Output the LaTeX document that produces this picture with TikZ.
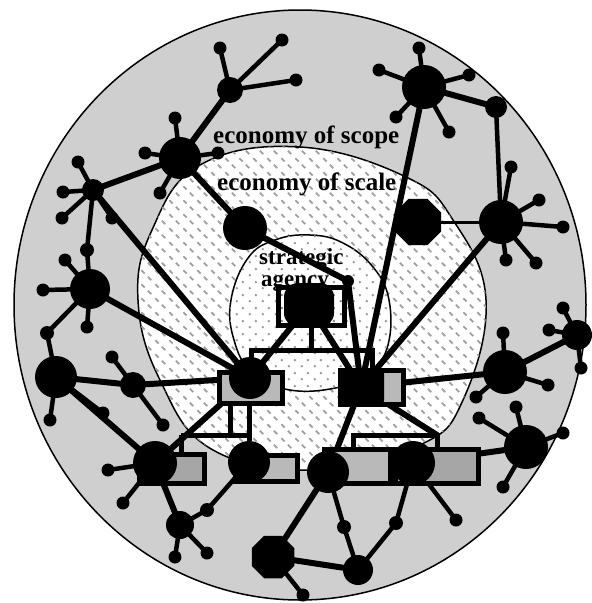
\documentclass[tikz,border=0pt]{standalone}
\usepackage{fontspec}
\setmainfont{Liberation Serif}
\usetikzlibrary{shapes.geometric,patterns.meta}
\pgfdeclarelayer{regions}
\pgfdeclarelayer{edges}
\pgfsetlayers{regions,edges,main}

\tikzdeclarepattern{
  name=scalemarks,
  type=uncolored,
  bottom left={(0pt,0pt)},
  top right={(14pt,14pt)},
  tile size={(14pt,14pt)},
  code={
    \pgfsetlinewidth{1.8pt}
    \pgfpathmoveto{\pgfqpoint{1.5pt}{11.5pt}}
    \pgfpathlineto{\pgfqpoint{5pt}{8pt}}
    \pgfpathmoveto{\pgfqpoint{8.5pt}{4.5pt}}
    \pgfpathlineto{\pgfqpoint{12pt}{1pt}}
    \pgfusepath{stroke}
  }
}
\tikzdeclarepattern{
  name=agencydots,
  type=uncolored,
  bottom left={(0pt,0pt)},
  top right={(13pt,13pt)},
  tile size={(13pt,13pt)},
  code={
    \pgfpathcircle{\pgfqpoint{3pt}{3pt}}{1.4pt}
    \pgfpathcircle{\pgfqpoint{9.5pt}{9.5pt}}{1.4pt}
    \pgfusepath{fill}
  }
}

\begin{document}
\begin{tikzpicture}[x=1pt,y=-1pt,
  blob/.style={circle,fill=black,draw=none,inner sep=0pt,minimum size=#1pt},
  octa/.style={regular polygon,regular polygon sides=8,fill=black,draw=none,inner sep=0pt,minimum size=#1pt},
  leaf/.style={circle,fill=black,draw=none,inner sep=0pt,minimum size=13pt},
  box/.style={rectangle,draw=black,line width=5pt,inner sep=0pt},
  heavy/.style={line width=6pt,line cap=round},
  stem/.style={line width=4.5pt,line cap=round},
  slim/.style={line width=3pt},
  bracket/.style={line width=5pt},
  region/.style={draw=black,line width=1.5pt},
  ringtext/.style={font=\fontsize{25}{25}\selectfont\bfseries,inner sep=0pt,anchor=base west},
  coretext/.style={font=\fontsize{23}{23}\selectfont\bfseries,inner sep=0pt,anchor=base west}
]
\useasboundingbox (0,0) rectangle (592,603);
\begin{pgfonlayer}{regions}
\fill[white] (0,0) rectangle (592,603);
\path[region,fill=gray!38] (300,305) ellipse [x radius=286pt, y radius=295pt];
\path[region,fill=white] plot[smooth cycle,tension=0.7] coordinates {(300,147) (406,177) (453,220) (486,300) (463,400) (420,445) (320,470) (213,450) (160,380) (138,300) (152,230) (200,165)};
\fill[pattern=scalemarks,pattern color=gray!75] plot[smooth cycle,tension=0.7] coordinates {(300,147) (406,177) (453,220) (486,300) (463,400) (420,445) (320,470) (213,450) (160,380) (138,300) (152,230) (200,165)};
\path[region,fill=white] plot[smooth cycle,tension=0.7] coordinates {(310,235) (343,243) (373,267) (389,300) (388,345) (370,372) (340,387) (290,390) (252,372) (234,340) (231,300) (248,258) (275,240)};
\fill[pattern=agencydots,pattern color=gray!80] plot[smooth cycle,tension=0.7] coordinates {(310,235) (343,243) (373,267) (389,300) (388,345) (370,372) (340,387) (290,390) (252,372) (234,340) (231,300) (248,258) (275,240)};
\end{pgfonlayer}

% boxes
\node[box,preaction={fill=white},pattern=agencydots,pattern color=gray,minimum width=66pt,minimum height=38pt] (Tbox) at (311.5,306.5) {};
\node[box,fill=gray!55,minimum width=63pt,minimum height=31pt] (Lbox) at (251,388) {};
\node[box,fill=gray!55,minimum width=63pt,minimum height=34pt] (Rbox) at (372,387.5) {};
\node[box,fill=gray!70,minimum width=65pt,minimum height=29pt] (Abox) at (172,469) {};
\node[box,fill=gray!55,minimum width=62pt,minimum height=26pt] (Bbox) at (266.5,468.5) {};
\node[box,fill=gray!55,minimum width=66pt,minimum height=34pt] (Cbox) at (357.5,466.5) {};
\node[box,fill=gray!70,minimum width=83pt,minimum height=34pt] (Dbox) at (437,466.5) {};

% central blobs
\node[rectangle,rounded corners=14pt,fill=black,inner sep=0pt,minimum width=50pt,minimum height=44pt] (T) at (309,305) {};
\node[blob=42] (L) at (250,378) {};
\node[rectangle,rounded corners=6pt,fill=black,inner sep=0pt,minimum width=46pt,minimum height=38pt] (R) at (361,387) {};
\node[blob=44] (A) at (155,463) {};
\node[blob=42] (Bb) at (249,462) {};
\node[blob=42] (C) at (328,472) {};
\node[blob=44] (D) at (413,463) {};
\node[blob=12] (Tc) at (348,281) {};

% outer hubs
\node[blob=42] (B1) at (180,158) {};
\node[blob=22] (B2) at (93,190) {};
\node[blob=40] (B3) at (90,289) {};
\node[blob=42] (B4) at (56,377) {};
\node[blob=44] (B5) at (245,228) {};
\node[blob=44] (B6) at (424,87) {};
\node[blob=44] (B7) at (501,222) {};
\node[octa=50] (B8) at (418,222) {};
\node[blob=44] (B9) at (505,372) {};
\node[blob=44] (B10) at (526,447) {};
\node[blob=30] (B11) at (577,335) {};
\node[octa=46] (B12) at (273,557) {};
\node[blob=30] (B13) at (358,570) {};
\node[blob=28] (B14) at (180,525) {};
\node[blob=26] (B15) at (230,90) {};
\node[blob=26] (B16) at (133,385) {};

% intermediate dots
\node[blob=14] (m1) at (87,250) {};
\node[blob=14] (m2) at (47,333) {};
\node[blob=14] (m3) at (207,510) {};
\node[blob=14] (m4) at (344,527) {};
\node[blob=14] (m5) at (396,523) {};
\node[blob=22] (m6) at (496,107) {};

% leaves
\foreach \n/\h/\x/\y in {l1/B15/220/48, l2/B15/282/40, l3/B15/296/80,
  l4/B1/175/118, l5/B1/145/153, l6/B1/218/153, l7/B1/160/193,
  l8/B2/78/162, l9/B2/63/192, l10/B2/62/218, l11/B2/112/218,
  l12/B3/65/260, l13/B3/43/290, l14/B3/87/327,
  l15/B4/50/420, l16/B4/103/413,
  l17/B16/112/357, l18/B16/163/425,
  l19/A/108/470, l20/A/123/503,
  l21/B14/175/557, l22/B14/207/553,
  l23/B12/303/595, l24/D/456/520,
  l25/B10/479/418, l26/B10/516/407, l27/B10/563/433, l28/B10/503/487,
  l29/B9/503/333, l30/B9/476/397, l31/B9/548/385,
  l32/B11/563/308, l33/B11/549/330, l34/B11/581/368,
  l35/B7/511/167, l36/B7/539/200, l37/B7/563/227, l38/B7/536/263, l39/B7/506/260,
  l40/B6/419/48, l41/B6/379/70, l42/B6/469/75, l43/B6/396/117, l44/B6/449/132}
{
  \node[leaf] (\n) at (\x,\y) {};
  \begin{pgfonlayer}{edges}
    \draw[stem] (\h.center) -- (\n.center);
  \end{pgfonlayer}
}

% bracket corners
\coordinate (lb1) at (230,435);
\coordinate (lb2) at (181,435);
\coordinate (rb1) at (353,435);
\coordinate (rb2) at (437,435);

\begin{pgfonlayer}{edges}
  \foreach \a/\b in {B2/B1, B1/B15, B1/B5, B5/Tc, Tc/R, B2/L, B3/L, B4/B16, B16/L,
    B4/A, L/T, T/R, L/A, R/B9, B9/B11, B6/R, B7/R, B6/m6, R/C, D/B10,
    C/B12, B12/B13, A/B14}
    \draw[heavy] (\a.center) -- (\b.center);
  \foreach \a/\b in {B2/m1, m1/B3, B3/m2, m2/B4, m6/B7, B14/m3, m3/Bb,
    C/m4, m4/B13, D/m5, m5/B13}
    \draw[stem] (\a.center) -- (\b.center);
  \draw[slim] (B7.center) -- (B8.center);
  \draw[heavy] (R.center) -- (rb2);
\end{pgfonlayer}

% brackets
\draw[bracket] (Tbox.south) -- ++(0,25);
\draw[bracket] (Lbox.north) -- ++(0,-20) -| (Rbox.north);
\draw[bracket] (Lbox.south -| lb1) -- (lb1);
\draw[bracket] (lb2) -- (lb2 -| Bb);
\draw[bracket] (lb2) -- (Abox.north -| lb2);
\draw[bracket] (Lbox.south -| Bb) -- (Bb);
\draw[bracket] (Cbox.north -| rb1) -- (rb1) -- (rb2) -- (Dbox.north -| rb2);

% texts
\node[ringtext] (scope) at (213,143) {economy of scope};
\node[ringtext] (scale) at (217,190) {economy of scale};
\node[coretext] (strat) at (259,264) {strategic};
\node[coretext] (agency) at (261,286) {agency};
\end{tikzpicture}
\end{document}
